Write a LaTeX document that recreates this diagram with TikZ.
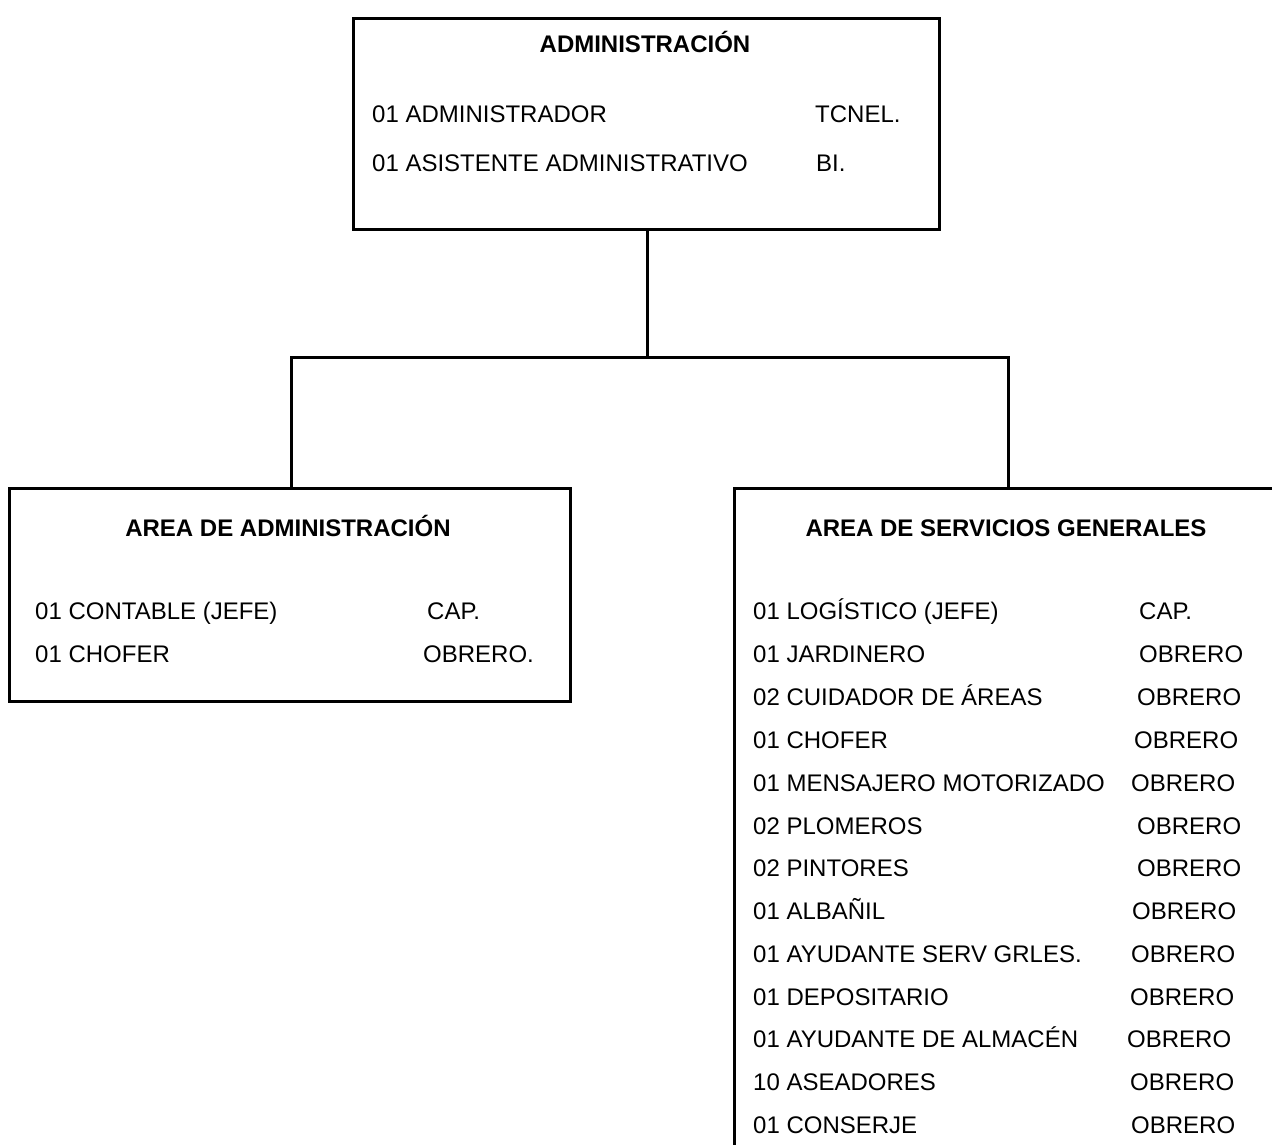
\documentclass[tikz,border=0pt]{standalone}
\usepackage{fontspec}
\setmainfont{Liberation Sans}
\begin{document}
\begin{tikzpicture}[x=1pt,y=-1pt,
  box/.style={draw=black,line width=3pt,rectangle,inner sep=0pt,anchor=north west},
  link/.style={draw=black,line width=3pt},
  head/.style={font=\fontsize{24}{28}\selectfont\bfseries,anchor=base,inner sep=0pt},
  item/.style={font=\fontsize{24}{28}\selectfont,anchor=base west,inner sep=0pt}]
\useasboundingbox (0,0) rectangle (1272,1144);
\clip (0,0) rectangle (1272,1144);

% boxes
\node[box,minimum width=586pt,minimum height=211pt] (adm) at (352,17) {};
\node[box,minimum width=561pt,minimum height=213pt] (areaadm) at (8,487) {};
\node[box,minimum width=580pt,minimum height=700pt] (areasg) at (733,487) {};

% connectors
\coordinate (bus) at (647,357);
\draw[link] (adm.south -| bus) -- (bus);
\draw[link,line cap=rect] (areaadm.north -| 291,0) |- (bus) -| (areasg.north -| 1008,0);

% top box
\node[head] (t0) at (645,52) {ADMINISTRACIÓN};
\node[item] (t1) at (372,122) {01 ADMINISTRADOR};
\node[item] (t1r) at (815,122) {TCNEL.};
\node[item] (t2) at (372,171) {01 ASISTENTE ADMINISTRATIVO};
\node[item] (t2r) at (816,171) {BI.};

% left box
\node[head] (l0) at (288,536) {AREA DE ADMINISTRACIÓN};
\node[item] (l1) at (35,619) {01 CONTABLE (JEFE)};
\node[item] (l1r) at (427,619) {CAP.};
\node[item] (l2) at (35,662) {01 CHOFER};
\node[item] (l2r) at (423,662) {OBRERO.};

% right box
\node[head] (r0) at (1006,536) {AREA DE SERVICIOS GENERALES};
\foreach \y/\name/\xr/\rank [count=\i] in {
  619/01 LOGÍSTICO (JEFE)/1139/CAP.,
  662/01 JARDINERO/1139/OBRERO,
  705/02 CUIDADOR DE ÁREAS/1137/OBRERO,
  748/01 CHOFER/1134/OBRERO,
  791/01 MENSAJERO MOTORIZADO/1131/OBRERO,
  834/02 PLOMEROS/1137/OBRERO,
  876/02 PINTORES/1137/OBRERO,
  919/01 ALBAÑIL/1132/OBRERO,
  962/01 AYUDANTE SERV GRLES./1131/OBRERO,
  1005/01 DEPOSITARIO/1130/OBRERO,
  1047/01 AYUDANTE DE ALMACÉN/1127/OBRERO,
  1090/10 ASEADORES/1130/OBRERO,
  1133/01 CONSERJE/1131/OBRERO}
{
  \node[item] (r\i) at (753,\y) {\name};
  \node[item] (r\i r) at (\xr,\y) {\rank};
}
\end{tikzpicture}
\end{document}
